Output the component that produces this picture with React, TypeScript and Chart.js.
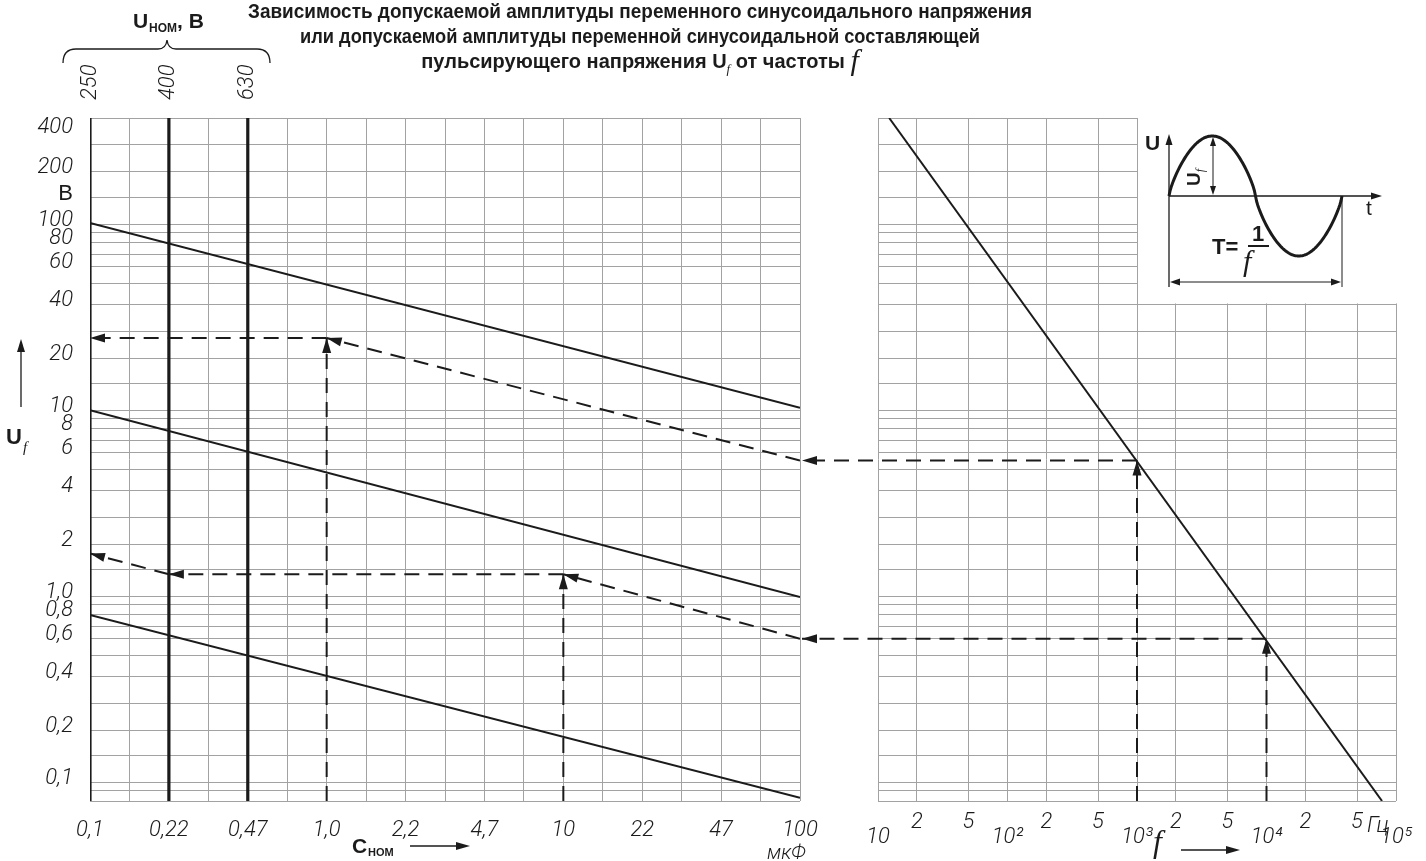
import React, { useEffect, useRef } from 'react';
import { Chart, registerables, LogarithmicScale } from 'chart.js';

Chart.register(...registerables);

// ---------------- data ----------------
const C_NOM_LABELS = ['0,1', '0,22', '0,47', '1,0', '2,2', '4,7', '10', '22', '47', '100'];
const U_NOM_LABELS = ['250', '400', '630'];
const U_NOM_AT_C = [0, 1, 2];

const U_MIN = 0.08;
const U_MAX = 400;
const U_GRID = [0.08, 0.09, 0.1, 0.15, 0.2, 0.3, 0.4, 0.5, 0.6, 0.7, 0.8, 0.9, 1, 1.5, 2, 3, 4, 5, 6, 7, 8, 9, 10, 15, 20, 30, 40, 50, 60, 70, 80, 90, 100, 150, 200, 300, 400];
const U_TICK_LABELS: Record<string, string> = {
  '400': '400', '200': '200', '150': 'В', '100': '100', '80': '80', '60': '60', '40': '40', '20': '20',
  '10': '10', '8': '8', '6': '6', '4': '4', '2': '2', '1': '1,0', '0.8': '0,8', '0.6': '0,6',
  '0.4': '0,4', '0.2': '0,2', '0.1': '0,1',
};

const F_MIN = 10;
const F_MAX = 100000;
const F_GRID = [10, 20, 50, 100, 200, 500, 1000, 2000, 5000, 10000, 20000, 50000, 100000];
const F_TICK_LABELS = ['10', '2', '5', '10²', '2', '5', '10³', '2', '5', '10⁴', '2', '5', '10⁵'];

// lines U = f(C) (values at C = 0,1 and C = 100)
const LINE_C_ENDS = [0, 9];
const LINE_HIGH = [102, 10.4];
const LINE_MID = [10, 0.99];
const LINE_LOW = [0.8, 0.083];

// line U = f(frequency)
const FREQ_LINE_F = [12.2, 78000];
const FREQ_LINE_U = [400, 0.08];

// worked examples
const EX_F = [1000, 10000];
const EX_UF = [5.5, 0.6];
const EX_C = [3, 6];
const EX_U = [27, 1.4];
const EX2_TAIL_C = [1, 0];
const EX2_TAIL_U = [1.4, 1.8];

// ---------------- style ----------------
const INK = '#1b1b1b';
const GRID = '#a2a2a2';
const SANS = "'Liberation Sans', Arial, sans-serif";
const SERIF = "'Liberation Serif', 'DejaVu Serif', serif";
const NUM = "Roboto, 'Liberation Sans', sans-serif";
const DASH = [15, 9];

// ------------- warped logarithmic scale (nomogram spacing) -------------
const MANT = [1, 1.5, 2, 3, 4, 5, 6, 7, 8, 9, 10];
const FRAC = [0, 0.143, 0.281, 0.426, 0.571, 0.684, 0.772, 0.84, 0.9, 0.955, 1];

function warp(v: number): number {
  const l = Math.log10(v);
  const d = Math.floor(l + 1e-9);
  const lm = l - d;
  for (let i = 0; i < MANT.length - 1; i++) {
    const a = Math.log10(MANT[i]);
    const b = Math.log10(MANT[i + 1]);
    if (lm <= b + 1e-9) return d + FRAC[i] + ((lm - a) / (b - a)) * (FRAC[i + 1] - FRAC[i]);
  }
  return d + 1;
}
function unwarp(w: number): number {
  const d = Math.floor(w);
  const f = w - d;
  for (let i = 0; i < FRAC.length - 1; i++) {
    if (f <= FRAC[i + 1]) {
      const t = (f - FRAC[i]) / (FRAC[i + 1] - FRAC[i]);
      const a = Math.log10(MANT[i]);
      const b = Math.log10(MANT[i + 1]);
      return Math.pow(10, d + a + t * (b - a));
    }
  }
  return Math.pow(10, d + 1);
}

class WarpLogScale extends LogarithmicScale {
  static id = 'warplog';
  static defaults = LogarithmicScale.defaults;
  getPixelForValue(value: any) {
    if (value === undefined || value === 0) value = (this as any).min;
    if (value === null || isNaN(value)) return NaN;
    const a = warp((this as any).min);
    const b = warp((this as any).max);
    return this.getPixelForDecimal((warp(value) - a) / (b - a));
  }
  getValueForPixel(pixel: number) {
    const a = warp((this as any).min);
    const b = warp((this as any).max);
    return unwarp(a + this.getDecimalForPixel(pixel) * (b - a));
  }
}
Chart.register(WarpLogScale as any);

// ---------------- helpers ----------------
const pts = (xs: number[], ys: number[]) => xs.map((x, i) => ({ x, y: ys[i] }));

const solid = (data: any[], width = 2) => ({
  data, borderColor: INK, borderWidth: width, pointRadius: 0, fill: false, tension: 0,
});
const dashed = (data: any[]) => ({
  data, borderColor: INK, borderWidth: 2, pointRadius: 0, fill: false, tension: 0,
  borderDash: DASH, arrow: true,
});

function head(ctx: CanvasRenderingContext2D, x1: number, y1: number, x2: number, y2: number, len = 15, half = 4.5) {
  const a = Math.atan2(y2 - y1, x2 - x1);
  const c = Math.cos(a), s = Math.sin(a);
  ctx.beginPath();
  ctx.moveTo(x2, y2);
  ctx.lineTo(x2 - len * c + half * s, y2 - len * s - half * c);
  ctx.lineTo(x2 - len * c - half * s, y2 - len * s + half * c);
  ctx.closePath();
  ctx.fill();
}
function seg(ctx: CanvasRenderingContext2D, x1: number, y1: number, x2: number, y2: number, w: number) {
  ctx.lineWidth = w;
  ctx.beginPath();
  ctx.moveTo(x1, y1);
  ctx.lineTo(x2, y2);
  ctx.stroke();
}

const arrowPlugin = {
  id: 'arrowHeads',
  afterDatasetsDraw(chart: any) {
    const ctx = chart.ctx;
    ctx.save();
    ctx.fillStyle = INK;
    chart.data.datasets.forEach((ds: any, i: number) => {
      if (!ds.arrow) return;
      const p = chart.getDatasetMeta(i).data;
      const a = p[p.length - 2], b = p[p.length - 1];
      head(ctx, a.x, a.y, b.x, b.y);
    });
    ctx.restore();
  },
};

const tickFont = { family: NUM, size: 22, style: 'italic' as const, weight: '300' as any };

const yAxis = (width: number, labels: boolean) => ({
  type: 'warplog',
  position: 'left',
  min: U_MIN,
  max: U_MAX,
  afterBuildTicks: (s: any) => { s.ticks = U_GRID.map((v) => ({ value: v })); },
  afterFit: (s: any) => { s.width = width; },
  grid: { color: GRID, lineWidth: 1, drawTicks: false },
  border: { display: false },
  ticks: {
    display: labels,
    autoSkip: false,
    padding: 17,
    labelOffset: -4,
    color: INK,
    font: (c: any) => (c.tick && c.tick.value === 150
      ? { family: SANS, size: 22, style: 'normal', weight: 'normal' }
      : tickFont),
    // the top label sits below the chart's upper edge
    callback: (v: number) => (v === U_MAX ? ['', U_TICK_LABELS[String(v)]] : U_TICK_LABELS[String(v)] ?? ''),
  },
});

function leftConfig(): any {
  const xGrid = C_NOM_LABELS.flatMap((_, i) => (i < C_NOM_LABELS.length - 1 ? [i, i + 0.5] : [i]));
  return {
    type: 'line',
    data: {
      datasets: [
        solid(pts(LINE_C_ENDS, LINE_HIGH)),
        solid(pts(LINE_C_ENDS, LINE_MID)),
        solid(pts(LINE_C_ENDS, LINE_LOW)),
        ...U_NOM_AT_C.map((c) => solid(pts([c, c], [U_MIN, U_MAX]), 3.2)),
        dashed(pts([EX_C[0], EX_C[0]], [U_MIN, EX_U[0]])),
        dashed(pts([LINE_C_ENDS[1], EX_C[0]], [EX_UF[0], EX_U[0]])),
        dashed(pts([EX_C[0], LINE_C_ENDS[0]], [EX_U[0], EX_U[0]])),
        dashed(pts([EX_C[1], EX_C[1]], [U_MIN, EX_U[1]])),
        dashed(pts([LINE_C_ENDS[1], EX_C[1]], [EX_UF[1], EX_U[1]])),
        dashed(pts([EX_C[1], EX2_TAIL_C[0]], [EX_U[1], EX_U[1]])),
        dashed(pts(EX2_TAIL_C, EX2_TAIL_U)),
      ],
    },
    options: {
      responsive: false,
      animation: false,
      events: [],
      layout: { padding: { left: 0, right: 50, top: 0, bottom: 0 } },
      plugins: { legend: { display: false }, tooltip: { enabled: false }, title: { display: false } },
      scales: {
        x: {
          type: 'linear',
          position: 'bottom',
          min: 0,
          max: C_NOM_LABELS.length - 1,
          afterBuildTicks: (s: any) => { s.ticks = xGrid.map((v) => ({ value: v })); },
          afterFit: (s: any) => { s.height = 60; },
          grid: { color: GRID, lineWidth: 1, drawTicks: false },
          border: { display: false },
          ticks: {
            autoSkip: false, maxRotation: 0, minRotation: 0, padding: 16, color: INK, font: tickFont,
            callback: (v: number) => (Number.isInteger(v) ? C_NOM_LABELS[v] : ''),
          },
        },
        xTop: {
          type: 'linear',
          position: 'top',
          min: 0,
          max: C_NOM_LABELS.length - 1,
          afterBuildTicks: (s: any) => { s.ticks = U_NOM_AT_C.map((v) => ({ value: v })); },
          afterFit: (s: any) => { s.height = 118; },
          grid: { display: false, drawTicks: false },
          border: { display: false },
          ticks: {
            autoSkip: false, minRotation: 90, maxRotation: 90, padding: 18, labelOffset: 26.4,
            color: INK, font: tickFont,
            callback: (_v: number, i: number) => U_NOM_LABELS[i],
          },
        },
        y: yAxis(90, true),
      },
    },
    plugins: [arrowPlugin],
  };
}

const rightPlugin = {
  id: 'rightExtras',
  beforeDatasetsDraw(chart: any) {
    const { ctx, chartArea } = chart;
    const xs = chart.scales.x, ys = chart.scales.y;
    const x0 = xs.getPixelForValue(1000) + 1;
    const y1 = ys.getPixelForValue(40) - 0.6;
    ctx.save();
    ctx.fillStyle = '#ffffff';
    ctx.fillRect(x0, chartArea.top - 2, chartArea.right + 2 - x0, y1 - chartArea.top + 2);
    ctx.restore();
  },
  afterDatasetsDraw(chart: any) {
    const { ctx, chartArea } = chart;
    const xs = chart.scales.x, ys = chart.scales.y;
    ctx.save();
    ctx.strokeStyle = INK;
    ctx.fillStyle = INK;
    // connectors to the left nomogram (its right edge is the left edge of this canvas)
    EX_F.forEach((f, k) => {
      const y = ys.getPixelForValue(EX_UF[k]);
      const xa = xs.getPixelForValue(f);
      ctx.setLineDash(DASH);
      seg(ctx, xa, y, 2, y, 2);
      ctx.setLineDash([]);
      head(ctx, xa, y, 2, y);
    });
    // inset: sinusoid
    const ox = xs.getPixelForValue(1000) + 32;
    const oy = chartArea.top + 78;
    ctx.setLineDash([]);
    ctx.lineCap = 'butt';
    seg(ctx, ox, oy + 91, ox, oy - 52, 1.3);
    head(ctx, ox, oy, ox, oy - 62, 11, 3.5);
    seg(ctx, ox, oy, ox + 205, oy, 1.3);
    head(ctx, ox, oy, ox + 213, oy, 11, 3.5);
    // amplitude
    seg(ctx, ox + 44, oy - 52, ox + 44, oy - 6, 1);
    head(ctx, ox + 44, oy - 30, ox + 44, oy - 59, 9, 3);
    head(ctx, ox + 44, oy - 30, ox + 44, oy - 1, 9, 3);
    // period
    seg(ctx, ox + 173, oy, ox + 173, oy + 91, 1);
    seg(ctx, ox + 8, oy + 86, ox + 165, oy + 86, 1);
    head(ctx, ox + 90, oy + 86, ox + 1, oy + 86, 10, 3.5);
    head(ctx, ox + 90, oy + 86, ox + 172, oy + 86, 10, 3.5);
    // fraction bar
    seg(ctx, ox + 79, oy + 50, ox + 100, oy + 50, 2);
    // sine
    ctx.lineWidth = 3;
    ctx.lineJoin = 'round';
    ctx.beginPath();
    for (let k = 0; k <= 160; k++) {
      const t = k / 160;
      const s = Math.sin(2 * Math.PI * t);
      const x = ox + 173 * t;
      const y = oy - 60 * Math.sign(s) * Math.pow(Math.abs(s), 0.75);
      if (k === 0) ctx.moveTo(x, y); else ctx.lineTo(x, y);
    }
    ctx.stroke();
    ctx.restore();
  },
};

function rightConfig(): any {
  return {
    type: 'line',
    data: {
      datasets: [
        solid(pts(FREQ_LINE_F, FREQ_LINE_U)),
        dashed(pts([EX_F[0], EX_F[0]], [U_MIN, EX_UF[0]])),
        dashed(pts([EX_F[1], EX_F[1]], [U_MIN, EX_UF[1]])),
      ],
    },
    options: {
      responsive: false,
      animation: false,
      events: [],
      layout: { padding: { left: 0, right: 30, top: 118, bottom: 0 } },
      plugins: { legend: { display: false }, tooltip: { enabled: false }, title: { display: false } },
      scales: {
        x: {
          type: 'logarithmic',
          position: 'bottom',
          min: F_MIN,
          max: F_MAX,
          afterBuildTicks: (s: any) => { s.ticks = F_GRID.map((v) => ({ value: v })); },
          afterFit: (s: any) => { s.height = 60; },
          grid: { color: GRID, lineWidth: 1, drawTicks: false },
          border: { display: false },
          ticks: {
            autoSkip: false, maxRotation: 0, minRotation: 0, padding: 14, color: INK,
            font: { ...tickFont, lineHeight: '15px' },
            callback: (_v: number, i: number) => (i % 3 === 0 ? ['', F_TICK_LABELS[i]] : F_TICK_LABELS[i]),
          },
        },
        y: yAxis(78, false),
      },
    },
    plugins: [arrowPlugin, rightPlugin],
  };
}

export default function App() {
  const leftRef = useRef<HTMLCanvasElement>(null);
  const rightRef = useRef<HTMLCanvasElement>(null);

  useEffect(() => {
    const left = new Chart(leftRef.current as HTMLCanvasElement, leftConfig());
    const right = new Chart(rightRef.current as HTMLCanvasElement, rightConfig());
    return () => {
      left.destroy();
      right.destroy();
    };
  }, []);

  return (
    <div style={{ position: 'absolute', left: 0, top: 0, width: 1426, height: 861, overflow: 'hidden', background: '#fff' }}>
      <canvas ref={leftRef} width={850} height={861} style={{ position: 'absolute', left: 0, top: 0, width: 850, height: 861 }} />
      <canvas ref={rightRef} width={626} height={861} style={{ position: 'absolute', left: 800, top: 0, width: 626, height: 861 }} />
      <svg width={1426} height={861} style={{ position: 'absolute', left: 0, top: 0, pointerEvents: 'none' }}>
        <g fill={INK} fontFamily={SANS} fontWeight="bold">
          <text x={640} y={18} fontSize={20} textAnchor="middle" textLength={784} lengthAdjust="spacingAndGlyphs">
            Зависимость допускаемой амплитуды переменного синусоидального напряжения
          </text>
          <text x={640} y={43} fontSize={20} textAnchor="middle" textLength={680} lengthAdjust="spacingAndGlyphs">
            или допускаемой амплитуды переменной синусоидальной составляющей
          </text>
          <text transform="translate(640,68)" x={0} y={0} fontSize={20} textAnchor="middle">
            пульсирующего напряжения U
            <tspan fontSize={13} fontStyle="italic" fontFamily={SERIF} fontWeight="normal" dy={5}>f</tspan>
            <tspan dy={-5}> от частоты </tspan>
            <tspan fontSize={30} fontStyle="italic" fontFamily={SERIF} fontWeight="normal" dy={2}>f</tspan>
          </text>

          {/* U nom header */}
          <text x={133} y={28} fontSize={21}>U</text>
          <text x={149} y={32} fontSize={12}>НОМ</text>
          <text x={177} y={28} fontSize={21}>, В</text>

          {/* left axis name */}
          <text x={6} y={444} fontSize={22}>U</text>
          <text x={23} y={452} fontSize={15} fontStyle="italic" fontFamily={SERIF} fontWeight="normal">f</text>

          {/* C nom */}
          <text x={352} y={853} fontSize={21}>C</text>
          <text x={368} y={856} fontSize={11}>НОМ</text>
          <text x={767} y={859} fontSize={20} fontStyle="italic" fontFamily={NUM} fontWeight="300">мкФ</text>

          {/* frequency */}
          <text x={1153} y={852} fontSize={32} fontStyle="italic" fontFamily={SERIF} fontWeight="normal">f</text>
          <text x={1367} y={832} fontSize={22} fontStyle="italic" fontFamily={NUM} fontWeight="300">Гц</text>

          {/* inset texts */}
          <text x={1145} y={150} fontSize={21}>U</text>
          <text x={1366} y={215} fontSize={21} fontWeight="normal">t</text>
          <text transform="translate(1200,186) rotate(-90)" fontSize={19}>
            U<tspan fontSize={12} fontStyle="italic" fontFamily={SERIF} fontWeight="normal" dy={4}>f</tspan>
          </text>
          <text x={1212} y={254} fontSize={22}>T=</text>
          <text x={1252} y={241} fontSize={22}>1</text>
          <text x={1243} y={271} fontSize={30} fontStyle="italic" fontFamily={SERIF} fontWeight="normal">f</text>
        </g>
        <g stroke={INK} fill="none" strokeWidth={1.3}>
          <path d="M63,63 Q63,49 76,49 L158,49 Q166,49 167,40 Q168,49 176,49 L257,49 Q270,49 270,63" />
          <line x1={21} y1={407} x2={21} y2={350} />
          <line x1={410} y1={846} x2={458} y2={846} />
          <line x1={1181} y1={850} x2={1228} y2={850} />
        </g>
        <g fill={INK}>
          <polygon points="21,339 17,352 25,352" />
          <polygon points="470,846 456,842 456,850" />
          <polygon points="1240,850 1226,846 1226,854" />
        </g>
      </svg>
    </div>
  );
}
